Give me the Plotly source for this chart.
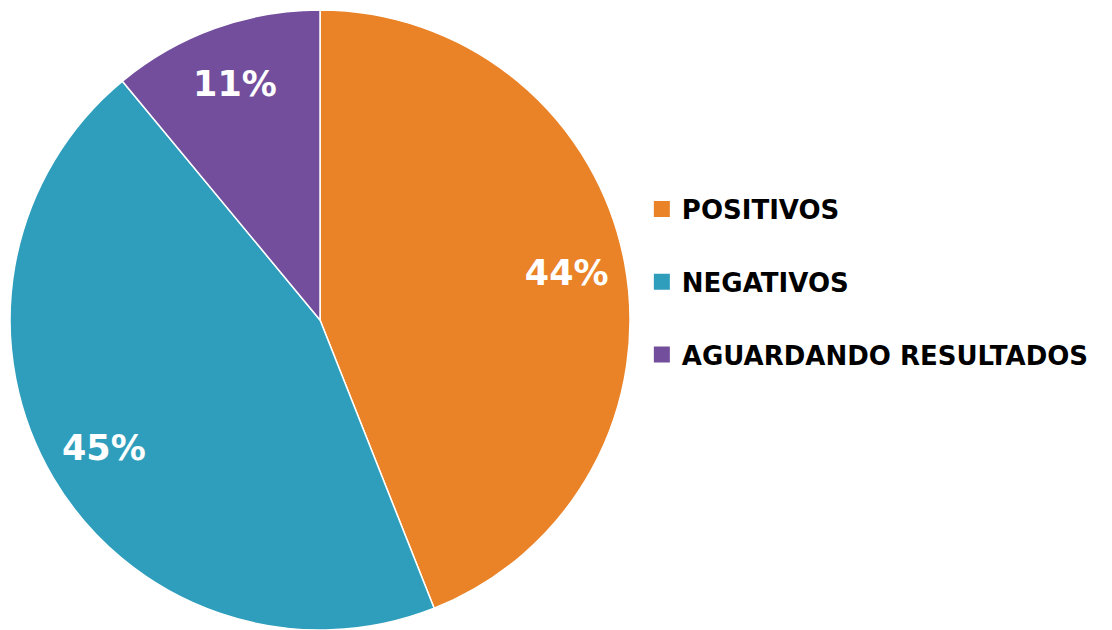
import plotly.graph_objects as go

# ---------------------------------- #
#                DATA                #
# ---------------------------------- #

categorias = ['POSITIVOS', 'NEGATIVOS', 'AGUARDANDO RESULTADOS']
valores = [44, 45, 11]
cores = ['#EA8227', '#2F9EBC', '#724E9C']

FONT = 'DejaVu Sans'
# page body has an 8px margin, so the domain is nudged up/left to compensate
PIE_DOMAIN = dict(x=[0.0018, 0.5594], y=[0.0127, 0.9968])

fig = go.Figure()

# Pie chart (legend drawn with helper traces below)
fig.add_trace(
    go.Pie(labels=categorias, values=valores,
           sort=False, direction='clockwise', rotation=0,
           marker=dict(colors=cores, line=dict(color='white', width=1.5)),
           textinfo='none',
           domain=PIE_DOMAIN,
           showlegend=False,
           hoverinfo='label+percent'))

# Same slices as a transparent ring, only to carry the % labels out near the rim
fig.add_trace(
    go.Pie(labels=categorias, values=valores,
           sort=False, direction='clockwise', rotation=0,
           hole=0.62,
           marker=dict(colors=['rgba(0,0,0,0)'] * len(valores),
                       line=dict(width=0)),
           textinfo='percent',
           textposition='inside',
           insidetextorientation='horizontal',
           textfont=dict(family=FONT, size=35, color='white', weight='bold'),
           domain=PIE_DOMAIN,
           showlegend=False,
           hoverinfo='skip'))

# Legend entries: square swatches, one group each for the spacing
for nome, cor in zip(categorias, cores):
    fig.add_trace(
        go.Scatter(x=[None], y=[None], mode='markers', name=nome,
                   legendgroup=nome,
                   marker=dict(symbol='square', size=16, color=cor)))

fig.update_xaxes(visible=False)
fig.update_yaxes(visible=False)

fig.update_layout(
    width=1112, height=630,
    paper_bgcolor='white',
    plot_bgcolor='white',
    margin=dict(l=0, r=0, t=0, b=0),
    legend=dict(x=0.570, xanchor='left',
                y=0.565, yanchor='middle',
                tracegroupgap=36,
                itemsizing='trace',
                font=dict(family=FONT, size=26, color='black', weight='bold')),
)

fig.write_html("out.html")
